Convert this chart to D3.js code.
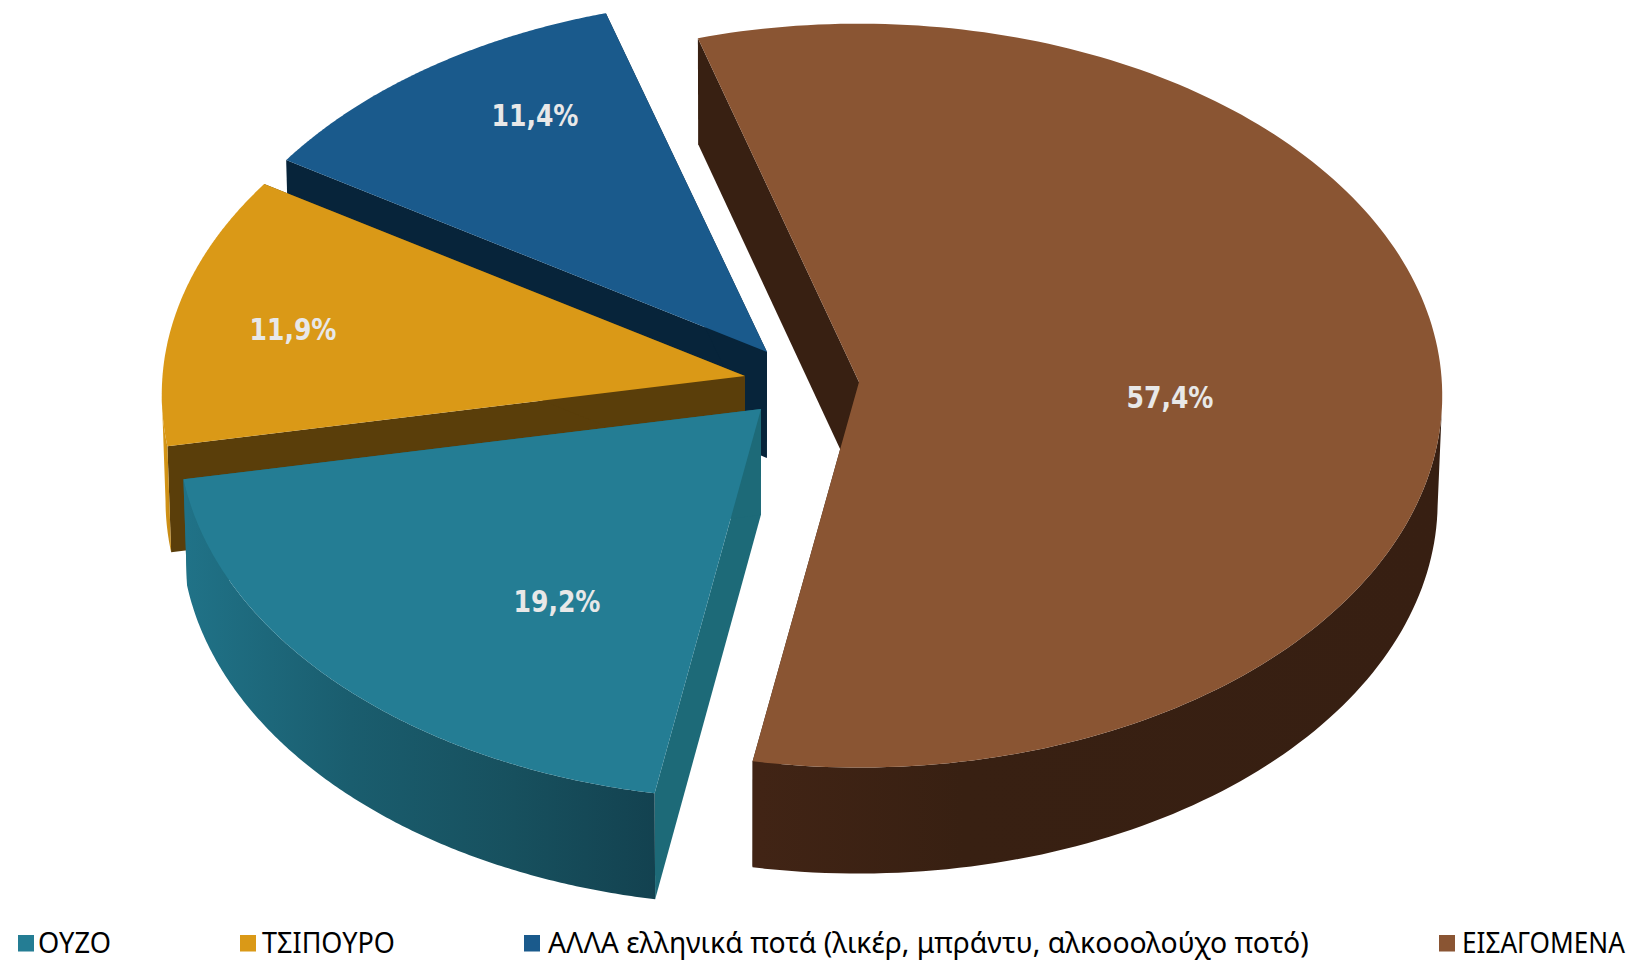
<!DOCTYPE html>
<html><head><meta charset="utf-8">
<style>html,body{margin:0;padding:0;background:#fff}svg{display:block}</style>
<script src="https://cdn.jsdelivr.net/npm/d3@7"></script></head>
<body><svg id="c" width="1631" height="960"></svg>
<script>
const categories=["ΟΥΖΟ","ΤΣΙΠΟΥΡΟ","ΑΛΛΑ ελληνικά ποτά (λικέρ, μπράντυ, αλκοοολούχο ποτό)","ΕΙΣΑΓΟΜΕΝΑ"];
const values=[19.2,11.9,11.4,57.4];
const labels=["19,2%","11,9%","11,4%","57,4%"];
const topColors=["#247d94","#da9917","#1a5a8c","#8a5533"];
const cutColors=["#1d6a78","#5a3e0a","#07243a","#382012"];
const apexes=[[761,409],[745,376],[767,352],[859,382]];
const rimShift=[0,0,0,-5];
const labelOffsets=[[-204,203],[-452,-36],[-232,-226],[311,26]];
const legendBoxes=[[18,38,73],[240,262,133],[524,548,761],[1439,1462,163]];

const Rx=582.5,Ry=371,depth=106,persp=0.05,vanishX=740,bottomScale=0.9935;
const svg=d3.select("#c");
const pie=d3.pie().sort(null).value(d=>d).startAngle(190*Math.PI/180).endAngle(550*Math.PI/180);
const arcs=pie(values);
const line=d3.line();
function rimPoint(i,a){const [ax,ay]=apexes[i],u=Math.sin(a),v=Math.cos(a),f=1/(1+persp*v);return [ax+Rx*u*f,ay+rimShift[i]-Ry*v*f];}
const down=p=>[vanishX+(p[0]-vanishX)*bottomScale,p[1]+depth];
const sample=(s,e)=>d3.range(0,181).map(t=>s+(e-s)*t/180);

const defs=svg.append("defs");
function grad(id,x1,x2,stops){
  const g=defs.append("linearGradient").attr("id",id).attr("gradientUnits","userSpaceOnUse").attr("x1",x1).attr("x2",x2).attr("y1",0).attr("y2",0);
  stops.forEach(s=>g.append("stop").attr("offset",s[0]).attr("stop-color",s[1]));
}
grad("tealWall",187,655,[[0,"#207287"],[0.35,"#1a5d6e"],[0.7,"#17505e"],[1,"#134250"]]);
grad("brownWall",758,1440,[[0,"#412415"],[0.3,"#382012"],[1,"#371f12"]]);
grad("goldWall",163,176,[[0,"#da9917"],[1,"#b57e12"]]);

const wallFill=["url(#tealWall)","url(#goldWall)",topColors[2],"url(#brownWall)"];
[2,3,1,0].forEach(i=>{
  const d=arcs[i],as=sample(d.startAngle,d.endAngle);
  const apex=apexes[i],rim=as.map(a=>rimPoint(i,a));
  const layer=svg.append("g").attr("class","slice").datum(d);
  [rim[0],rim[rim.length-1]].forEach(p=>{
    layer.append("path").attr("d",line([apex,p,down(p),down(apex)])+"Z").attr("fill",cutColors[i]);
  });
  const front=as.filter(a=>Math.cos(a)<=-persp).map(a=>rimPoint(i,a));
  if(front.length>1) layer.append("path").attr("d",line(front.concat(front.map(down).reverse()))+"Z").attr("fill",wallFill[i]);
  layer.append("path").attr("d",line([apex].concat(rim))+"Z").attr("fill",topColors[i]);
});
arcs.forEach((d,i)=>{
  const t=svg.append("text").attr("text-anchor","middle")
    .attr("font-family","DejaVu Sans").attr("font-weight","bold").attr("font-size",31)
    .attr("fill","#e8e8e8").text(labels[i]);
  const sx=87/t.node().getComputedTextLength();
  t.attr("transform",`translate(${apexes[i][0]+labelOffsets[i][0]},${apexes[i][1]+labelOffsets[i][1]}) scale(${sx},1)`);
});
categories.forEach((c,i)=>{
  const [sx,tx,tw]=legendBoxes[i];
  svg.append("rect").attr("x",sx).attr("y",935).attr("width",16).attr("height",16.5).attr("fill",topColors[i]);
  const t=svg.append("text").attr("font-family","Noto Sans").attr("font-size",29).attr("fill","#000").text(c);
  const k=tw/t.node().getComputedTextLength();
  t.attr("transform",`translate(${tx},952.5) scale(${k},1)`);
});
</script></body></html>
